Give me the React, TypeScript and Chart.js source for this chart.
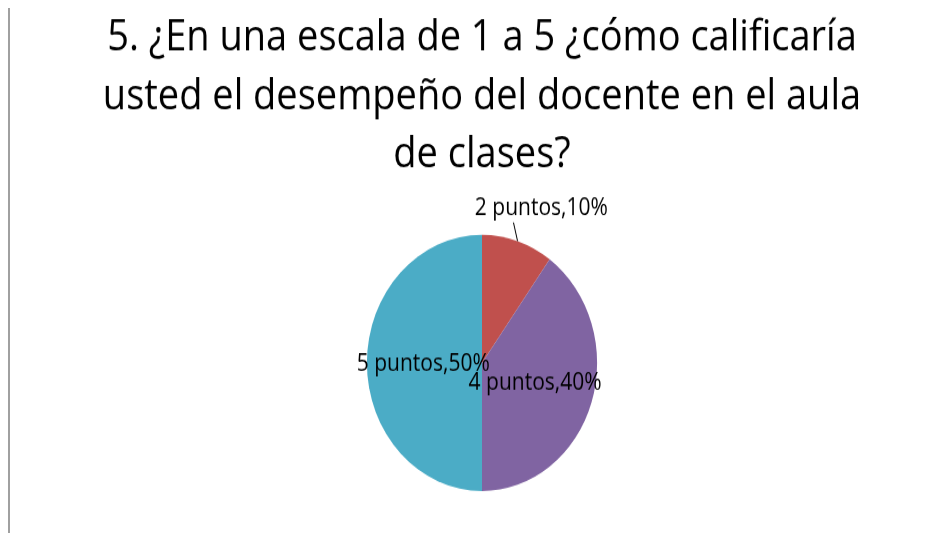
import React, { useEffect, useRef } from "react";
import { Chart, registerables } from "chart.js";

Chart.register(...registerables);

const titleLines = [
  "5. ¿En una escala de 1 a 5 ¿cómo calificaría",
  "usted el desempeño del docente en el aula",
  "de clases?",
];
const categories = ["1 punto", "2 puntos", "3 puntos", "4 puntos", "5 puntos"];
const percentages = [0, 10, 0, 40, 50];
const sliceColors = ["#4F81BD", "#C0504D", "#9BBB59", "#8064A2", "#4BACC6"];

const STRETCH = 1.113;
const W = 935;
const H = 472;

// label placement per slice: radius factor, angle tweak (deg), leader line
const labelPlacement = [
  { r: 0.5, da: 0, leader: false },
  { r: 1.32, da: 5, leader: true },
  { r: 0.5, da: 0, leader: false },
  { r: 0.485, da: 0, leader: false },
  { r: 0.51, da: 0, leader: false },
];

const LABEL_SIZE = 21;
const labelFont = `${LABEL_SIZE}px "Open Sans"`;

const dataLabelPlugin = {
  id: "excelDataLabels",
  afterDatasetsDraw(chart: any) {
    const ctx = chart.ctx;
    const meta = chart.getDatasetMeta(0);
    const values: number[] = chart.data.datasets[0].data;
    const total = values.reduce((a, b) => a + b, 0);
    ctx.save();
    ctx.font = labelFont;
    ctx.fillStyle = "#000";
    ctx.strokeStyle = "#000";
    ctx.textAlign = "center";
    ctx.textBaseline = "alphabetic";
    meta.data.forEach((arc: any, i: number) => {
      const v = values[i];
      if (!v) return;
      const { x, y, startAngle, endAngle, outerRadius } = arc;
      const mid = (startAngle + endAngle) / 2;
      const p = labelPlacement[i];
      const a = mid + (p.da * Math.PI) / 180;
      const lx = x + Math.cos(a) * outerRadius * p.r;
      const ly = y + Math.sin(a) * outerRadius * p.r;
      const text = `${chart.data.labels[i]},${Math.round((v / total) * 100)}%`;
      const capH = 0.65 * LABEL_SIZE;
      ctx.fillText(text, lx, ly + capH / 2);
      if (p.leader) {
        const a2 = mid - (4 * Math.PI) / 180;
        ctx.lineWidth = 1;
        ctx.beginPath();
        ctx.moveTo(x + Math.cos(mid) * outerRadius, y + Math.sin(mid) * outerRadius);
        ctx.lineTo(x + Math.cos(a2) * outerRadius * 1.13, y + Math.sin(a2) * outerRadius * 1.13);
        ctx.stroke();
      }
    });
    ctx.restore();
  },
};

export default function App() {
  const ref = useRef<HTMLCanvasElement | null>(null);
  useEffect(() => {
    if (!ref.current) return;
    const chart = new Chart(ref.current, {
      type: "pie",
      data: {
        labels: categories,
        datasets: [
          {
            data: percentages,
            backgroundColor: sliceColors,
            borderWidth: 0,
          },
        ],
      },
      options: {
        responsive: false,
        animation: false,
        layout: { padding: { left: 9, right: 0, top: 0, bottom: 38 } },
        plugins: {
          legend: { display: false },
          tooltip: { enabled: false },
          title: {
            display: true,
            text: titleLines,
            color: "#000",
            font: { family: "Open Sans", size: 38, weight: "normal", lineHeight: 52.6 / 38 },
            padding: { top: 1, bottom: 45 },
          },
        },
      },
      plugins: [dataLabelPlugin],
    });
    return () => chart.destroy();
  }, []);

  return (
    <div
      style={{
        width: 937,
        height: 526,
        marginTop: -1,
        boxSizing: "border-box",
        borderTop: "1px solid #a6a6a6",
        borderLeft: "2px solid #a0a0a0",
        overflow: "hidden",
        background: "#fff",
      }}
    >
      <div style={{ width: W, height: H, transform: `scaleY(${STRETCH})`, transformOrigin: "top left" }}>
        <canvas ref={ref} width={W} height={H} style={{ display: "block" }} />
      </div>
    </div>
  );
}
